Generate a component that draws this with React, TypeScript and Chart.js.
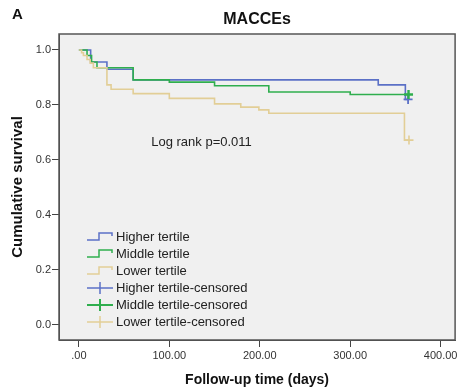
import React, { useEffect, useRef } from 'react';
import { Chart, registerables } from 'chart.js';
Chart.register(...registerables);

const seriesNames = ['Higher tertile', 'Middle tertile', 'Lower tertile'];
const seriesColors = ['#5b70c6', '#2fae4e', '#e2ce96'];

const higherTimes = [0, 13, 31, 60, 331, 361, 364];
const higherSurv = [1.0, 0.956, 0.93, 0.891, 0.873, 0.82, 0.82];

const middleTimes = [0, 9, 14, 20, 60, 100, 150, 210, 300, 364.5];
const middleSurv = [1.0, 0.98, 0.956, 0.935, 0.891, 0.883, 0.87, 0.847, 0.838, 0.838];

const lowerTimes = [0, 3, 5, 9, 12.5, 16, 31, 35.6, 60, 100, 150, 179, 199, 210, 360, 365];
const lowerSurv = [1.0, 0.99, 0.98, 0.965, 0.952, 0.935, 0.873, 0.857, 0.841, 0.824, 0.804, 0.792, 0.782, 0.77, 0.672, 0.672];

const censoredTimes = [364, 364.5, 365];
const censoredSurv = [0.82, 0.838, 0.672];

const xTicks = [0, 100, 200, 300, 400];
const yTicks = [0, 0.2, 0.4, 0.6, 0.8, 1.0];

const titleText = 'MACCEs';
const panelLabel = 'A';
const xTitle = 'Follow-up time (days)';
const yTitle = 'Cumulative survival';
const annotationText = 'Log rank p=0.011';
const annotationX = 80;
const annotationY = 0.662;

const FONT = '"Liberation Sans", Arial, sans-serif';

const toXY = (ts: number[], ss: number[]) => ts.map((t, i) => ({ x: t, y: ss[i] }));

const framePlugin = {
  id: 'frame',
  beforeDraw(chart: any) {
    const { ctx, chartArea: a } = chart;
    ctx.save();
    ctx.fillStyle = '#ffffff';
    ctx.fillRect(0, 0, chart.width, chart.height);
    ctx.fillStyle = '#f0f0f0';
    ctx.fillRect(a.left, a.top, a.right - a.left, a.bottom - a.top);
    ctx.restore();
  },
  afterDraw(chart: any) {
    const { ctx, chartArea: a, scales } = chart;
    ctx.save();
    ctx.strokeStyle = '#555';
    ctx.lineWidth = 1.5;
    ctx.strokeRect(a.left, a.top, a.right - a.left, a.bottom - a.top);
    // panel label
    ctx.fillStyle = '#111';
    ctx.font = `bold 15px ${FONT}`;
    ctx.textAlign = 'left';
    ctx.textBaseline = 'middle';
    ctx.fillText(panelLabel, 12, 15);
    // annotation
    ctx.font = `13px ${FONT}`;
    ctx.fillStyle = '#222';
    ctx.fillText(annotationText, scales.x.getPixelForValue(annotationX), scales.y.getPixelForValue(annotationY));
    // legend
    const x0 = a.left + 28;
    const iconW = 26;
    const rowH = 17;
    let y = a.bottom - 103;
    ctx.lineWidth = 1.5;
    seriesNames.forEach((name, i) => {
      ctx.strokeStyle = seriesColors[i];
      ctx.beginPath();
      ctx.moveTo(x0, y + 3);
      ctx.lineTo(x0 + 12, y + 3);
      ctx.lineTo(x0 + 12, y - 4);
      ctx.lineTo(x0 + iconW - 1, y - 4);
      ctx.lineTo(x0 + iconW - 1, y - 1);
      ctx.stroke();
      ctx.fillStyle = '#222';
      ctx.font = `13px ${FONT}`;
      ctx.fillText(name, x0 + iconW + 3, y);
      y += rowH;
    });
    seriesNames.forEach((name, i) => {
      ctx.strokeStyle = seriesColors[i];
      ctx.lineWidth = i === 1 ? 2 : 1.5;
      ctx.beginPath();
      ctx.moveTo(x0, y);
      ctx.lineTo(x0 + iconW, y);
      ctx.moveTo(x0 + iconW / 2, y - 6);
      ctx.lineTo(x0 + iconW / 2, y + 6);
      ctx.stroke();
      ctx.fillStyle = '#222';
      ctx.font = `13px ${FONT}`;
      ctx.fillText(name + '-censored', x0 + iconW + 3, y);
      y += rowH;
    });
    ctx.restore();
  },
};

export default function App() {
  const ref = useRef<HTMLCanvasElement>(null);
  useEffect(() => {
    document.body.style.margin = '0';
    const series = [
      { t: higherTimes, s: higherSurv, order: 3 },
      { t: middleTimes, s: middleSurv, order: 2 },
      { t: lowerTimes, s: lowerSurv, order: 1 },
    ];
    const lineSets = series.map((d, i) => ({
      label: seriesNames[i],
      data: toXY(d.t, d.s),
      borderColor: seriesColors[i],
      borderWidth: 1.6,
      stepped: 'before' as const,
      pointRadius: 0,
      fill: false,
      order: d.order,
    }));
    const chart = new Chart(ref.current!, {
      type: 'line',
      data: {
        datasets: [
          ...lineSets,
          {
            label: 'censored',
            type: 'scatter',
            data: toXY(censoredTimes, censoredSurv),
            pointStyle: 'cross',
            pointRadius: 4.5,
            pointBorderColor: seriesColors,
            pointBackgroundColor: seriesColors,
            pointBorderWidth: [1.8, 2.4, 1.6],
            showLine: false,
            order: 0,
          } as any,
        ],
      },
      options: {
        animation: false,
        responsive: false,
        events: [],
        layout: { padding: { left: 0, right: 5, top: 0, bottom: 0 } },
        plugins: {
          legend: { display: false },
          tooltip: { enabled: false },
          title: {
            display: true,
            text: titleText,
            fullSize: false,
            color: '#111',
            font: { family: FONT, size: 16, weight: 'bold' },
            padding: { top: 10.4, bottom: 4.4 },
          },
        },
        scales: {
          x: {
            type: 'linear',
            min: -22,
            max: 416,
            afterFit: (s: any) => { s.height = 51; },
            afterBuildTicks: (s: any) => { s.ticks = xTicks.map((v) => ({ value: v })); },
            grid: { drawOnChartArea: false, drawTicks: true, tickLength: 7, color: '#444' },
            border: { display: true, color: '#444', width: 1 },
            ticks: {
              color: '#333',
              font: { family: FONT, size: 11 },
              padding: 2,
              maxRotation: 0,
              callback: (v: any) => (v === 0 ? '.00' : Number(v).toFixed(2)),
            },
            title: {
              display: true,
              text: xTitle,
              color: '#111',
              font: { family: FONT, size: 14, weight: 'bold' },
              padding: { top: 0, bottom: 2.6 },
            },
          },
          y: {
            type: 'linear',
            min: -0.055,
            max: 1.058,
            afterFit: (s: any) => { s.width = 59; },
            afterBuildTicks: (s: any) => { s.ticks = yTicks.map((v) => ({ value: v })); },
            grid: { drawOnChartArea: false, drawTicks: true, tickLength: 7, color: '#444' },
            border: { display: true, color: '#444', width: 1 },
            ticks: {
              color: '#333',
              font: { family: FONT, size: 11 },
              padding: 1,
              callback: (v: any) => Number(v).toFixed(1),
            },
            title: {
              display: true,
              text: yTitle,
              color: '#111',
              font: { family: FONT, size: 15, weight: 'bold' },
              padding: { top: 9, bottom: 0 },
            },
          },
        },
      },
      plugins: [framePlugin],
    });
    return () => chart.destroy();
  }, []);
  return (
    <div style={{ width: 462, height: 391, background: '#fff' }}>
      <canvas ref={ref} width={462} height={391} style={{ display: 'block', width: 462, height: 391 }} />
    </div>
  );
}
